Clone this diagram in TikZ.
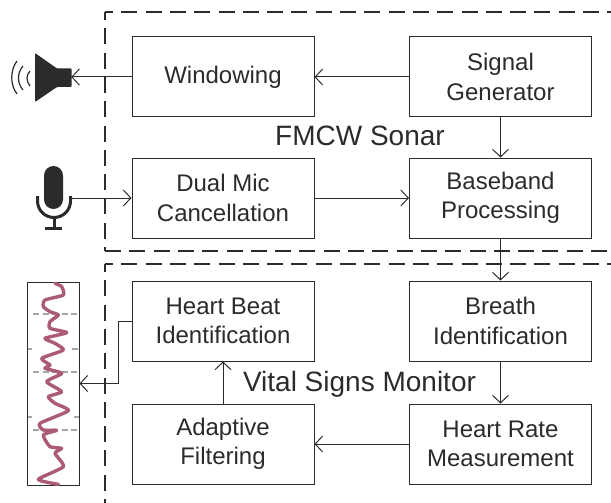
\documentclass[tikz,border=0pt]{standalone}
\usepackage{fontspec}
\setmainfont{Liberation Sans}
\usetikzlibrary{arrows.meta}
\definecolor{ink}{HTML}{2B2B2B}
\definecolor{trace}{HTML}{AB5A78}
\definecolor{gridgrey}{HTML}{A3A8A6}
\tikzset{
  x=1pt,y=-1pt,
  block/.style={draw=ink,line width=1pt,minimum width=182pt,minimum height=80pt,inner sep=0pt,align=center,text=ink,font=\fontsize{24}{29.3}\selectfont},
  conn/.style={draw=ink,line width=1pt,-{Straight Barb[length=7.5pt,width=16pt,line width=1pt]}},
  region/.style={draw=ink,line width=1.9pt,dash pattern=on 16pt off 8.3pt},
  heading/.style={text=ink,inner sep=0pt,anchor=base,font=\fontsize{28}{30}\selectfont},
  holder/.style={inner sep=0pt,minimum width=34pt,minimum height=50pt},
  gridline/.style={draw=gridgrey,line width=1.5pt,dash pattern=on 6pt off 3.5pt},
  wavearc/.style={draw=ink,line width=1.2pt}
}
\begin{document}
\begin{tikzpicture}
\useasboundingbox (0,0) rectangle (611,503);
% dashed regions
\draw[region,dash phase=8pt] (105,12) -- (611,12);
\draw[region,dash phase=8pt] (105,12) -- (105,251);
\draw[region] (105,251) -- (611,251);
\draw[region,dash phase=8pt] (105,264) -- (611,264);
\draw[region,dash phase=8pt] (105,264) -- (105,503);
% blocks
\node[block] (win) at (223,77) {Windowing};
\node[block] (gen) at (500.5,77) {Signal\\Generator};
\node[block] (dual) at (223,198) {Dual Mic\\Cancellation};
\node[block] (base) at (500.5,198) {Baseband\\Processing};
\node[block] (beat) at (223,321) {Heart Beat\\Identification};
\node[block] (breath) at (500.5,321) {Breath\\Identification};
\node[block] (adapt) at (223,444) {Adaptive\\Filtering};
\node[block] (rate) at (500.5,444) {Heart Rate\\Measurement};
\node[heading] (sonar) at (360,145.3) {FMCW Sonar};
\node[heading] (vital) at (359.5,391.5) {Vital Signs Monitor};
% speaker
\node[inner sep=0pt,minimum width=36pt,minimum height=18pt] (spk) at (53,77) {};
\fill[ink,rounded corners=1pt] (35,53) -- (57,68.5) -- (71.5,68.5) -- (71.5,87) -- (57,87) -- (35,102) -- cycle;
\draw[wavearc] (17,61) .. controls (10,70) and (10,85) .. (17,94);
\draw[wavearc] (23,66) .. controls (17,73) and (17,83) .. (23,90);
\draw[wavearc] (30,71) .. controls (26,75) and (26,81) .. (30,86);
% microphone
\node[holder] (mic) at (54,198) {};
\fill[ink] (44,175.5) arc[start angle=180,end angle=360,radius=9.5] -- (63,199.5) arc[start angle=0,end angle=180,radius=9.5] -- cycle;
\draw[ink,line width=3pt] (37.5,196) -- (37.5,201) arc[start angle=180,end angle=0,radius=16.5] -- (70.5,196);
\draw[ink,line width=3pt] (54,217.5) -- (54,228);
\draw[ink,line width=3pt] (45,228) -- (62,228);
% plot thumbnail
\node[draw=ink,line width=.9pt,fill=white,inner sep=0pt,minimum width=52pt,minimum height=203pt] (plot) at (53,383.5) {};
\draw[gridline] (33,314) -- (79,314);
\draw[gridline] (27.5,349) -- (32,349);
\draw[gridline] (72,349) -- (79,349);
\draw[gridline] (33,372) -- (79,372);
\draw[gridline] (28,417) -- (32,417);
\draw[gridline] (74,417) -- (79,417);
\draw[gridline] (33,430) -- (79,430);
\begin{scope}[x=.33333pt,y=-.33333pt,yshift=-250pt]
\draw[trace,line width=3.4pt,line join=round,line cap=round] plot[smooth,tension=.35] coordinates {
(165,100)(185,110)(190,135)(135,150)(130,170)(150,185)(175,195)(150,215)(150,235)(200,248)(135,265)(165,280)(190,300)(125,325)(150,345)(135,355)(185,370)(140,395)(185,425)(145,440)(165,460)(205,482)(120,520)(130,540)(170,541)(130,555)(150,590)(185,595)(165,610)(190,650)(115,688)(175,703)};
\end{scope}
% connectors
\draw[conn] (win.west) -- (spk.east);
\draw[conn] (gen.west) -- (win.east);
\draw[conn] (gen.south) -- (base.north);
\draw[conn] (mic.east) -- (dual.west);
\draw[conn] (dual.east) -- (base.west);
\draw[conn] (base.south) -- (breath.north);
\draw[conn] (breath.south) -- (rate.north);
\draw[conn] (rate.west) -- (adapt.east);
\draw[conn] (adapt.north) -- (beat.south);
\draw[conn] (beat.west) -- ++(-13,0) |- (plot.east);
\end{tikzpicture}
\end{document}
